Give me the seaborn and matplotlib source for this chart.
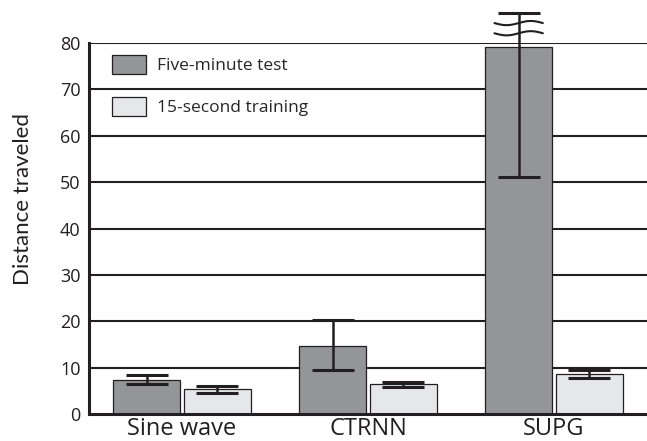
import numpy as np
import pandas as pd
import matplotlib
matplotlib.use("Agg")
import matplotlib.pyplot as plt
import seaborn as sns

# data
controllers = ["Sine wave", "CTRNN", "SUPG"]
conditions = ["Five-minute test", "15-second training"]
test_mean = [7.3, 14.7, 79.1]
test_low = [6.5, 9.5, 51.0]
test_high = [8.4, 20.3, 86.4]
train_mean = [5.4, 6.4, 8.6]
train_low = [4.5, 5.9, 7.8]
train_high = [6.0, 6.9, 9.5]
y_ticks = [0, 10, 20, 30, 40, 50, 60, 70, 80]

dark = "#939598"
light = "#e6e7e8"
ink = "#231f20"


def main():
    df = pd.DataFrame({
        "Controller": controllers * 2,
        "Condition": [conditions[0]] * 3 + [conditions[1]] * 3,
        "Distance": test_mean + train_mean,
    })
    lows = test_low + train_low
    highs = test_high + train_high

    sns.set_style("white")
    plt.rcParams["font.family"] = ["Open Sans", "DejaVu Sans"]

    fig = plt.figure(figsize=(6.47, 4.41), dpi=100)
    ax = fig.add_axes([89 / 647, 27 / 441, 1 - 89 / 647, 371 / 441])

    # horizontal rules behind the bars
    for t in y_ticks[1:]:
        ax.axhline(t, color=ink, lw=1.5, zorder=0)

    sns.barplot(data=df, x="Controller", y="Distance", hue="Condition",
                palette=[dark, light], errorbar=None, width=0.76, gap=0.05,
                edgecolor=ink, linewidth=0.9, ax=ax, zorder=2)

    # error bars on the bar centres seaborn placed
    bars = [p for p in ax.patches if p.get_height() > 0][:6]
    for p, m, lo, hi in zip(bars, df["Distance"], lows, highs):
        xc = p.get_x() + p.get_width() / 2
        ax.errorbar(xc, m, yerr=[[m - lo], [hi - m]], fmt="none", ecolor=ink,
                    elinewidth=1.8, capsize=15, capthick=2.2, zorder=3,
                    clip_on=False)

    # axis-break squiggles over the SUPG error bar
    p = bars[2]
    xc = p.get_x() + p.get_width() / 2
    half = p.get_width() * 0.36
    xs = np.linspace(xc - half, xc + half, 60)
    wave = np.sin((xs - xs[0]) / (xs[-1] - xs[0]) * 2 * np.pi)
    for yb in [84.3, 82.1]:
        ax.plot(xs, yb - 0.45 * wave, color=ink, lw=1.5, clip_on=False, zorder=4)

    ax.set_ylim(0, 80)
    ax.set_xlim(-0.5, 2.5)
    ax.set_yticks(y_ticks)
    ax.tick_params(axis="both", length=0, colors=ink)
    ax.tick_params(axis="y", labelsize=13, pad=6)
    ax.tick_params(axis="x", labelsize=17, pad=2)
    ax.set_xlabel("")
    ax.set_ylabel("Distance traveled", fontsize=16, color=ink,
                  family=["Lato", "DejaVu Sans"])
    ax.yaxis.set_label_coords(-0.1, 0.58)

    for side in ["top", "right"]:
        ax.spines[side].set_visible(False)
    for side in ["left", "bottom"]:
        ax.spines[side].set_color(ink)
        ax.spines[side].set_linewidth(2.2)
        ax.spines[side].set_zorder(5)

    ax.legend(title=None, frameon=False, loc="upper left", fontsize=12.5,
              handlelength=1.95, handleheight=1.3, labelspacing=1.3,
              handletextpad=0.6, borderaxespad=0.3, bbox_to_anchor=(0.02, 1.0))

    fig.savefig("out.png", dpi=100)


if __name__ == "__main__":
    main()
